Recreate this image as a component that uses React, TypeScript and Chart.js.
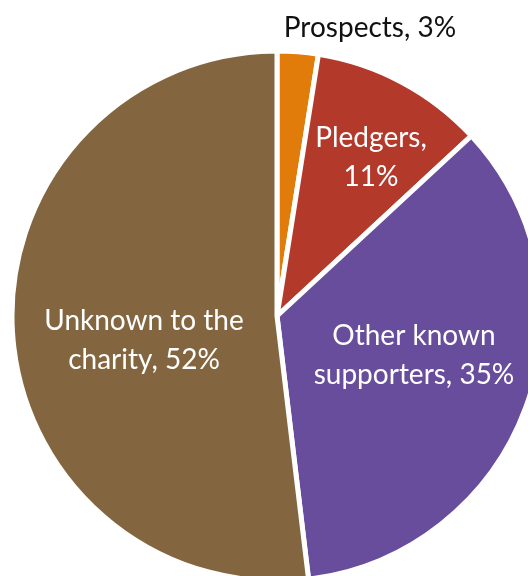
import React, { useEffect, useRef } from "react";
import { Chart, registerables } from "chart.js";

Chart.register(...registerables);

const categories = ["Prospects", "Pledgers", "Other known supporters", "Unknown to the charity"];
const shares = [2.5, 10.6, 35.0, 51.9];
const labelLines = [["Prospects, 3%"], ["Pledgers,", "11%"], ["Other known", "supporters, 35%"], ["Unknown to the", "charity, 52%"]];
const colors = ["#E17C0B", "#B3392B", "#684D9C", "#836640"];
const labelColors = ["#111111", "#FFFFFF", "#FFFFFF", "#FFFFFF"];

// label placement relative to the pie centre (px): x offset, baseline y offset of first line
const labelPlacement = [
  { dx: 93, dy: -279 },
  { dx: 94, dy: -169 },
  { dx: 137, dy: 29 },
  { dx: -133, dy: 14 },
];
const LINE_HEIGHT = 39;
const FONT = "28px Lato";

const labelPlugin = {
  id: "sliceLabels",
  afterDatasetsDraw(chart: any) {
    const meta = chart.getDatasetMeta(0);
    const arc = meta.data[0];
    if (!arc) return;
    const cx = arc.x;
    const cy = arc.y;
    const ctx = chart.ctx;
    ctx.save();
    ctx.font = FONT;
    ctx.textAlign = "center";
    ctx.textBaseline = "alphabetic";
    labelLines.forEach((lines, i) => {
      ctx.fillStyle = labelColors[i];
      lines.forEach((t, j) => {
        ctx.fillText(t, cx + labelPlacement[i].dx, cy + labelPlacement[i].dy + j * LINE_HEIGHT);
      });
    });
    ctx.restore();
  },
};

export default function App() {
  const ref = useRef<HTMLCanvasElement | null>(null);
  useEffect(() => {
    if (!ref.current) return;
    const chart = new Chart(ref.current, {
      type: "pie",
      data: {
        labels: categories,
        datasets: [
          {
            data: shares,
            backgroundColor: colors,
            borderColor: "#FFFFFF",
            borderWidth: 5,
            clip: false as any,
          },
        ],
      },
      options: {
        responsive: false,
        animation: false,
        radius: 265,
        layout: { padding: { left: 26, right: 0, top: 56, bottom: 0 } },
        plugins: { legend: { display: false }, tooltip: { enabled: false } },
      } as any,
      plugins: [labelPlugin],
    });
    return () => chart.destroy();
  }, []);
  return (
    <div style={{ position: "absolute", left: 0, top: 0, width: 528, height: 576, background: "#fff" }}>
      <canvas ref={ref} width={528} height={576} style={{ display: "block" }} />
    </div>
  );
}
